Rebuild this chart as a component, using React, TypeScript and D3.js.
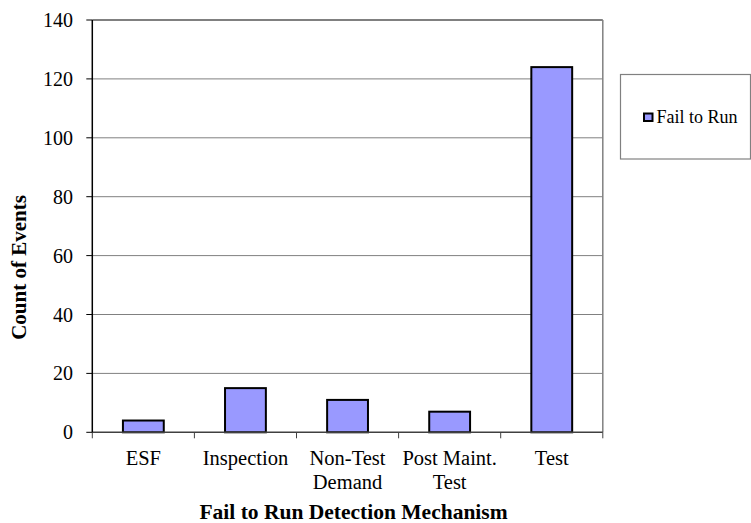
import React from 'react';
import * as d3 from 'd3';

const categories = ['ESF', 'Inspection', 'Non-Test Demand', 'Post Maint. Test', 'Test'];
const categoryLines = [['ESF'], ['Inspection'], ['Non-Test', 'Demand'], ['Post Maint.', 'Test'], ['Test']];
const failToRun = [4, 15, 11, 7, 124];
const yTicks = [0, 20, 40, 60, 80, 100, 120, 140];

const W = 751;
const H = 523;
const plot = { left: 92.3, right: 602.8, top: 20, bottom: 432.3 };
const FONT = 'Times New Roman, Liberation Serif, serif';

export default function App() {
  const x = d3.scaleBand<string>()
    .domain(categories)
    .range([plot.left, plot.right])
    .paddingInner(0.6)
    .paddingOuter(0.3);
  const y = d3.scaleLinear().domain([0, 140]).range([plot.bottom, plot.top]);

  // boundaries between categories for x ticks
  const step = x.step();
  const boundaries = d3.range(categories.length + 1).map(i => plot.left + i * step);

  return (
    <div style={{ position: 'absolute', left: 0, top: 0 }}>
      <svg width={W} height={H} style={{ display: 'block' }}>
        <rect x={0} y={0} width={W} height={H} fill="#fff" />

        {/* gridlines */}
        {yTicks.filter(t => t > 0 && t < 140).map(t => (
          <line key={t} x1={plot.left} x2={plot.right} y1={y(t)} y2={y(t)} stroke="#808080" strokeWidth={1} />
        ))}
        {/* top and right border */}
        <line x1={plot.left} x2={plot.right} y1={y(140)} y2={y(140)} stroke="#808080" strokeWidth={2} />
        <line x1={plot.right} x2={plot.right} y1={plot.top} y2={plot.bottom} stroke="#808080" strokeWidth={1.5} />

        {/* bars */}
        {categories.map((c, i) => (
          <rect
            key={c}
            x={x(c)}
            y={y(failToRun[i])}
            width={x.bandwidth()}
            height={y(0) - y(failToRun[i])}
            fill="#9999FF"
            stroke="#000"
            strokeWidth={2}
          />
        ))}

        {/* x axis */}
        <line x1={plot.left} x2={plot.right} y1={y(0)} y2={y(0)} stroke="#404040" strokeWidth={1.5} />
        {boundaries.map((b, i) => (
          <line key={i} x1={b} x2={b} y1={y(0)} y2={y(0) + 6} stroke="#404040" strokeWidth={1} />
        ))}
        {categories.map((c, i) => (
          <text key={c} textAnchor="middle" fontFamily={FONT} fontSize={20.5} fill="#000">
            {categoryLines[i].map((ln, j) => (
              <tspan key={j} x={(x(c) ?? 0) + x.bandwidth() / 2} y={465 + j * 23.5}>{ln}</tspan>
            ))}
          </text>
        ))}

        {/* y axis */}
        <line x1={plot.left} x2={plot.left} y1={plot.top} y2={plot.bottom} stroke="#000" strokeWidth={1.5} />
        {yTicks.map(t => (
          <g key={t}>
            <line x1={plot.left - 6} x2={plot.left} y1={y(t)} y2={y(t)} stroke="#000" strokeWidth={1} />
            <text x={73} y={y(t)} dy="0.35em" textAnchor="end" fontFamily={FONT} fontSize={20} fill="#000">{t}</text>
          </g>
        ))}

        {/* axis titles */}
        <text x={(plot.left + plot.right) / 2 + 6} y={518.5} textAnchor="middle" fontFamily={FONT} fontSize={21.5} fontWeight="bold" fill="#000">
          Fail to Run Detection Mechanism
        </text>
        <text transform={`translate(26,${(195 + 340) / 2}) rotate(-90)`} textAnchor="middle" fontFamily={FONT} fontSize={21} fontWeight="bold" fill="#000">
          Count of Events
        </text>

        {/* legend */}
        <rect x={620.5} y={74.5} width={130} height={84.5} fill="#fff" stroke="#808080" strokeWidth={1.2} />
        <rect x={644} y={113.5} width={8.5} height={7.5} fill="#9999FF" stroke="#000" strokeWidth={2} />
        <text x={656.5} y={123.3} fontFamily={FONT} fontSize={18} fill="#000">Fail to Run</text>
      </svg>
    </div>
  );
}
